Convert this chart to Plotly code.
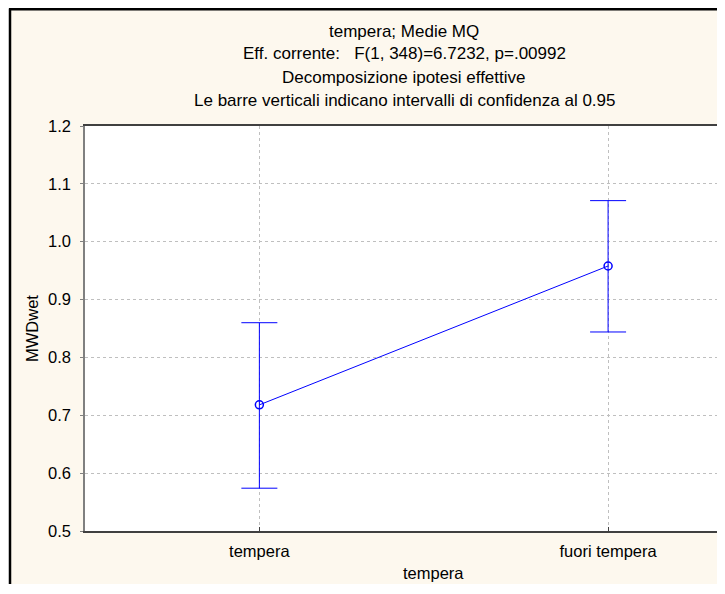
import plotly.graph_objects as go

categories = ["tempera", "fuori tempera"]
means = [0.718, 0.958]
upper = [0.860, 1.071]
lower = [0.574, 0.844]
y_ticks = [0.5, 0.6, 0.7, 0.8, 0.9, 1.0, 1.1, 1.2]
y_tick_labels = ["0.5", "0.6", "0.7", "0.8", "0.9", "1.0", "1.1", "1.2"]
title_lines = [
    "tempera; Medie MQ",
    "Eff. corrente:   F(1, 348)=6.7232, p=.00992",
    "Decomposizione ipotesi effettive",
    "Le barre verticali indicano intervalli di confidenza al 0.95",
]

# page body has an 8px margin; work in screenshot pixels and shift
OFF = 8
W, H = 709, 576
L, R, T = 85 - OFF, 0, 126 - OFF
B = H - (531 - OFF)
PW, PH = W - L - R, H - T - B
FONT = "Liberation Sans, Arial, sans-serif"
FS = 16.5
BLUE = "#0000FF"
CREAM = "#FDF8EE"
x_end = -0.5 + (OFF + W - R - 84.5) / 349.0

err_plus = [u - m for u, m in zip(upper, means)]
err_minus = [m - l for m, l in zip(means, lower)]

fig = go.Figure()
fig.add_trace(go.Scatter(
    x=categories, y=means, mode="lines+markers",
    line=dict(color=BLUE, width=1),
    marker=dict(symbol="circle-open", size=8, color=BLUE, line=dict(width=1.5, color=BLUE)),
    error_y=dict(type="data", symmetric=False, array=err_plus, arrayminus=err_minus,
                 color=BLUE, thickness=1, width=18),
    showlegend=False,
))

def px_x(sx):
    return (sx - OFF - L) / PW

def px_y(sy):
    return (H - B - (sy - OFF)) / PH

annotations = []
for i, t in enumerate(title_lines):
    annotations.append(dict(text=t, x=px_x(404), y=px_y(31 + 23 * i), xref="paper", yref="paper",
                            showarrow=False, xanchor="center", yanchor="middle",
                            font=dict(family=FONT, size=17, color="#000")))
annotations.append(dict(text="MWDwet", x=px_x(32), y=px_y(329), xref="paper", yref="paper",
                        showarrow=False, textangle=-90, xanchor="center", yanchor="middle",
                        font=dict(family=FONT, size=FS, color="#000")))
annotations.append(dict(text="tempera", x=px_x(433), y=px_y(573), xref="paper", yref="paper",
                        showarrow=False, xanchor="center", yanchor="middle",
                        font=dict(family=FONT, size=FS, color="#000")))

shapes = [
    dict(type="rect", xref="paper", yref="paper", x0=px_x(OFF), x1=px_x(10), y0=0 - B / PH, y1=1 + T / PH,
         fillcolor="#FFFFFF", line=dict(width=0), layer="below"),
    dict(type="rect", xref="paper", yref="paper", x0=px_x(OFF), x1=1, y0=px_y(9), y1=1 + T / PH,
         fillcolor="#FFFFFF", line=dict(width=0), layer="below"),
    dict(type="line", xref="paper", yref="paper", x0=px_x(10), x1=px_x(10), y0=0 - B / PH, y1=px_y(8.5),
         line=dict(color="#000", width=2.5)),
    dict(type="line", xref="paper", yref="paper", x0=px_x(9), x1=1, y0=px_y(9.2), y1=px_y(9.2),
         line=dict(color="#000", width=2.5)),
]

fig.update_layout(
    width=W, height=H,
    margin=dict(l=L, r=R, t=T, b=B, pad=0),
    paper_bgcolor=CREAM, plot_bgcolor="#FFFFFF",
    font=dict(family=FONT, size=FS, color="#000"),
    annotations=annotations, shapes=shapes,
    xaxis=dict(type="category", range=[-0.5, x_end], showgrid=True, gridcolor="#BFBFBF",
               griddash="dot", gridwidth=1, showline=True, linecolor="#404040", linewidth=1.5,
               mirror=True, ticks="inside", ticklen=4, tickcolor="#404040",
               tickfont=dict(family=FONT, size=FS, color="#000"), zeroline=False,
               ticklabelstandoff=4),
    yaxis=dict(range=[0.5, 1.2], tickvals=y_ticks, ticktext=y_tick_labels,
               showgrid=True, gridcolor="#BFBFBF", griddash="dot", gridwidth=1,
               showline=True, linecolor="#808080", linewidth=1.5, ticks="outside", ticklen=3,
               tickcolor="#808080", tickfont=dict(family=FONT, size=FS, color="#000"),
               zeroline=False, ticklabelstandoff=6),
)

fig.write_html("out.html")
